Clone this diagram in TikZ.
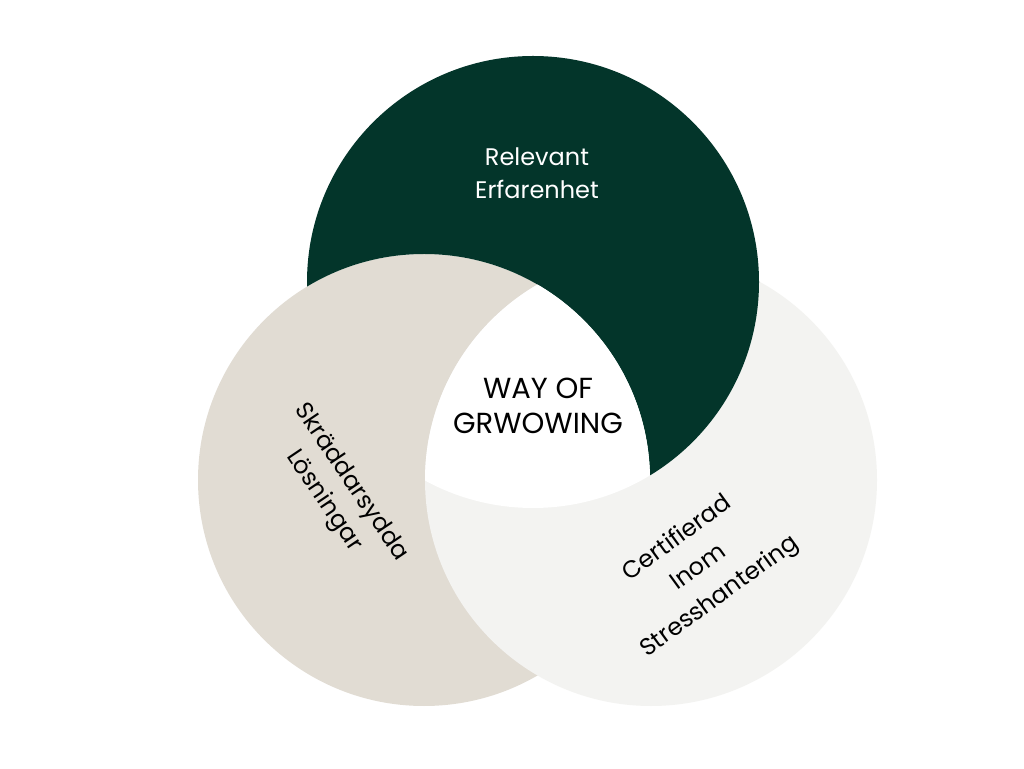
\documentclass[tikz,border=0pt]{standalone}
\usepackage{fontspec}
\setmainfont{Poppins}
\definecolor{dgreen}{HTML}{03352A}
\definecolor{beige}{HTML}{E1DCD3}
\definecolor{lgray}{HTML}{F3F3F1}
\begin{document}
\begin{tikzpicture}[x=1pt,y=1pt,
  lbl/.style={align=center,font=\fontsize{24}{33}\selectfont,inner sep=0pt}]
\useasboundingbox (0,0) rectangle (1024,768);
\fill[white] (0,0) rectangle (1024,768);
\def\rr{226}
\coordinate (cg) at (533,486);
\coordinate (cb) at (424,288);
\coordinate (cy) at (651,288);
\fill[beige] (cb) circle (\rr);
\fill[lgray] (cy) circle (\rr);
\begin{scope}[even odd rule]
  \clip (cb) circle (\rr) (-10,-10) rectangle (1034,778);
  \fill[dgreen] (cg) circle (\rr);
\end{scope}
\begin{scope}
  \clip (cb) circle (\rr);
  \clip (cy) circle (\rr);
  \fill[white] (cg) circle (\rr);
\end{scope}
\node[lbl,text=white] (rel) at (537,595) {Relevant\\Erfarenhet};
\node[align=center,inner sep=0pt,font=\fontsize{29}{35}\selectfont] (way) at (538,362) {WAY OF\\GRWOWING};
\node[lbl,rotate=-56] (skr) at (337,276) {Skräddarsydda\\Lösningar};
\node[lbl,rotate=36,font=\fontsize{24}{36}\selectfont] (cert) at (699,200) {Certifierad\\Inom\\Stresshantering};
\end{tikzpicture}
\end{document}
